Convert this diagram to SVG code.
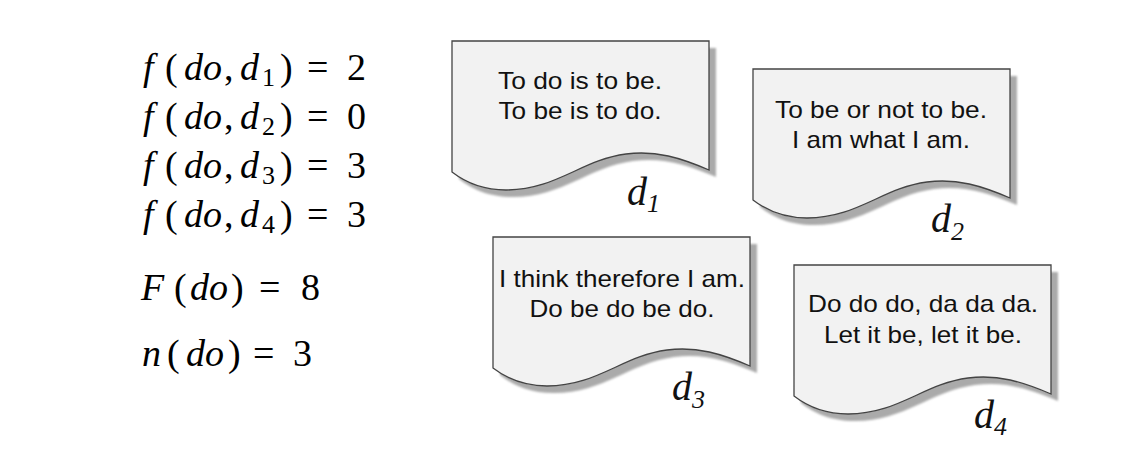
<svg xmlns="http://www.w3.org/2000/svg" width="1135" height="456" viewBox="0 0 1135 456">
<defs>
<style>
.m{font-family:"Liberation Serif","Times New Roman",serif;font-size:38px;fill:#000}
.i{font-style:italic}
.s{font-size:26px}
.t{font-family:"Liberation Sans",Arial,sans-serif;font-size:24px;fill:#111;text-anchor:middle}
.doc{fill:#f2f2f2;stroke:#444;stroke-width:1.3}
.sh{fill:#aaaaaa;filter:url(#blur)}
.lab{font-family:"Liberation Serif","Times New Roman",serif;font-style:italic;font-size:40px;fill:#111}
.lab .s{font-size:26px}
</style>
<filter id="blur" x="-5%" y="-5%" width="110%" height="110%"><feGaussianBlur stdDeviation="1.2"/></filter>
<path id="docshape" d="M0,0 H257 V129 C229,117 204,109 174,113 C129,119 104,149 54,149 C29,149 13,141 0,131 Z"/>
</defs>
<rect width="1135" height="456" fill="#fff"/>
<g id="formulas">
<text class="m" y="80"><tspan class="i" x="143">f</tspan><tspan x="165">(</tspan><tspan class="i" x="184">do</tspan><tspan x="224">,</tspan><tspan class="i" x="240">d</tspan><tspan class="s" x="262" dy="6">1</tspan><tspan x="280" dy="-6">)</tspan><tspan x="307">=</tspan><tspan x="347">2</tspan></text>
<text class="m" y="129"><tspan class="i" x="143">f</tspan><tspan x="165">(</tspan><tspan class="i" x="184">do</tspan><tspan x="224">,</tspan><tspan class="i" x="240">d</tspan><tspan class="s" x="262" dy="6">2</tspan><tspan x="280" dy="-6">)</tspan><tspan x="307">=</tspan><tspan x="347">0</tspan></text>
<text class="m" y="178"><tspan class="i" x="143">f</tspan><tspan x="165">(</tspan><tspan class="i" x="184">do</tspan><tspan x="224">,</tspan><tspan class="i" x="240">d</tspan><tspan class="s" x="262" dy="6">3</tspan><tspan x="280" dy="-6">)</tspan><tspan x="307">=</tspan><tspan x="347">3</tspan></text>
<text class="m" y="227"><tspan class="i" x="143">f</tspan><tspan x="165">(</tspan><tspan class="i" x="184">do</tspan><tspan x="224">,</tspan><tspan class="i" x="240">d</tspan><tspan class="s" x="262" dy="6">4</tspan><tspan x="280" dy="-6">)</tspan><tspan x="307">=</tspan><tspan x="347">3</tspan></text>
<text class="m" y="300"><tspan class="i" x="141">F</tspan><tspan x="174">(</tspan><tspan class="i" x="190">do</tspan><tspan x="231">)</tspan><tspan x="259">=</tspan><tspan x="301">8</tspan></text>
<text class="m" y="366"><tspan class="i" x="142">n</tspan><tspan x="167">(</tspan><tspan class="i" x="186">do</tspan><tspan x="228">)</tspan><tspan x="253">=</tspan><tspan x="293">3</tspan></text>
</g>
<g id="d1">
<use href="#docshape" class="sh" transform="translate(459,48)"/>
<use href="#docshape" class="doc" transform="translate(452,41)"/>
<text class="t" x="580" y="89" textLength="164" lengthAdjust="spacingAndGlyphs">To do is to be.</text>
<text class="t" x="580" y="119" textLength="163" lengthAdjust="spacingAndGlyphs">To be is to do.</text>
<text class="lab" x="627" y="205">d<tspan class="s" dy="7">1</tspan></text>
</g>
<g id="d2">
<use href="#docshape" class="sh" transform="translate(760,76)"/>
<use href="#docshape" class="doc" transform="translate(753,69)"/>
<text class="t" x="881" y="118" textLength="212" lengthAdjust="spacingAndGlyphs">To be or not to be.</text>
<text class="t" x="881" y="148" textLength="178" lengthAdjust="spacingAndGlyphs">I am what I am.</text>
<text class="lab" x="931" y="232">d<tspan class="s" dy="8">2</tspan></text>
</g>
<g id="d3">
<use href="#docshape" class="sh" transform="translate(500,244)"/>
<use href="#docshape" class="doc" transform="translate(493,237)"/>
<text class="t" x="622" y="287" textLength="246" lengthAdjust="spacingAndGlyphs">I think therefore I am.</text>
<text class="t" x="622" y="317" textLength="185" lengthAdjust="spacingAndGlyphs">Do be do be do.</text>
<text class="lab" x="672" y="400">d<tspan class="s" dy="8">3</tspan></text>
</g>
<g id="d4">
<use href="#docshape" class="sh" transform="translate(801,272)"/>
<use href="#docshape" class="doc" transform="translate(794,265)"/>
<text class="t" x="923" y="312" textLength="230" lengthAdjust="spacingAndGlyphs">Do do do, da da da.</text>
<text class="t" x="923" y="343" textLength="198" lengthAdjust="spacingAndGlyphs">Let it be, let it be.</text>
<text class="lab" x="974" y="428">d<tspan class="s" dy="7">4</tspan></text>
</g>
<g id="connectors"/>
</svg>
